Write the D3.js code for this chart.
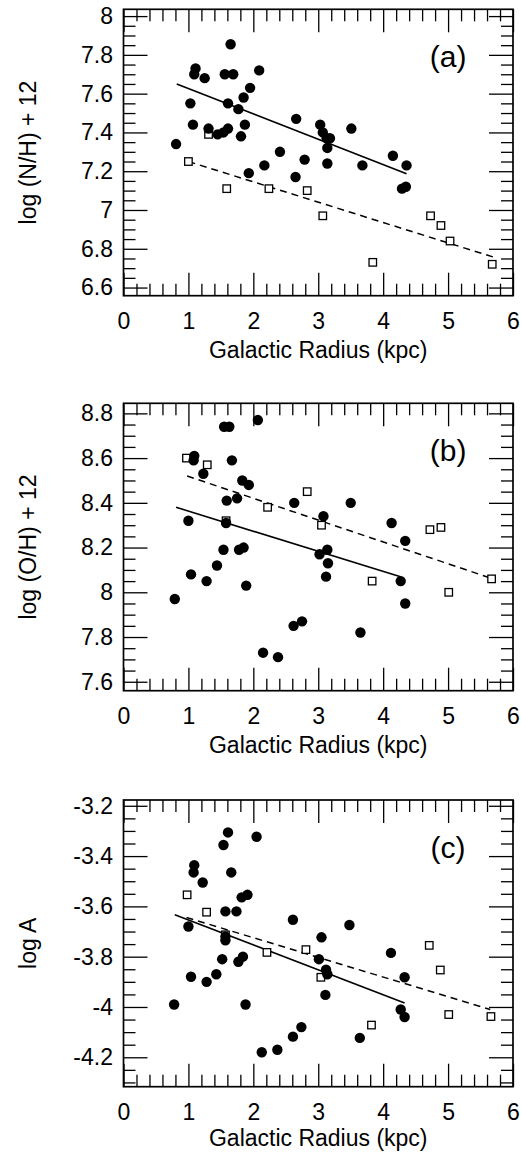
<!DOCTYPE html>
<html>
<head>
<meta charset="utf-8">
<script src="https://cdn.jsdelivr.net/npm/d3@7"></script>
<style>
  body { margin: 0; background: #fff; }
  svg { display: block; font-family: "Liberation Sans", Arial, Helvetica, sans-serif; }
</style>
</head>
<body>
<svg></svg>
<script>
// (a) log (N/H) + 12 vs galactic radius
const nhCircles = [
  [0.81, 7.34], [1.03, 7.55], [1.07, 7.44], [1.11, 7.73], [1.09, 7.70], [1.25, 7.68],
  [1.31, 7.42], [1.45, 7.39], [1.54, 7.40], [1.61, 7.42], [1.61, 7.55], [1.56, 7.70],
  [1.69, 7.70], [1.65, 7.855], [1.77, 7.52], [1.85, 7.58], [1.87, 7.44], [1.81, 7.38],
  [1.95, 7.63], [1.93, 7.19], [2.09, 7.72], [2.17, 7.23], [2.41, 7.30], [2.66, 7.47],
  [2.65, 7.17], [2.79, 7.26], [3.03, 7.44], [3.07, 7.40], [3.13, 7.37], [3.18, 7.37],
  [3.14, 7.32], [3.14, 7.24], [3.51, 7.42], [3.68, 7.23], [4.15, 7.28], [4.36, 7.23],
  [4.29, 7.11], [4.35, 7.12]
]
const nhSquares = [
  [1.0, 7.25], [1.31, 7.39], [1.59, 7.11], [2.24, 7.11], [2.83, 7.10], [3.07, 6.97],
  [3.84, 6.73], [4.73, 6.97], [4.89, 6.92], [5.03, 6.84], [5.68, 6.72]
]
const nhSolid = [[0.82, 7.65], [4.36, 7.187]]
const nhDashed = [[1.0, 7.25], [5.72, 6.755]]

// (b) log (O/H) + 12
const ohCircles = [
  [0.79, 7.97], [1.0, 8.32], [1.04, 8.08], [1.09, 8.61], [1.08, 8.59], [1.23, 8.53],
  [1.28, 8.05], [1.44, 8.12], [1.54, 8.19], [1.55, 8.74], [1.63, 8.74], [1.58, 8.31],
  [1.59, 8.41], [1.67, 8.59], [1.75, 8.42], [1.78, 8.19], [1.85, 8.20], [1.83, 8.50],
  [1.93, 8.48], [1.89, 8.03], [2.07, 8.77], [2.15, 7.73], [2.38, 7.71], [2.62, 7.85],
  [2.75, 7.87], [2.63, 8.40], [3.02, 8.17], [3.08, 8.34], [3.14, 8.19], [3.15, 8.13],
  [3.12, 8.07], [3.50, 8.40], [3.65, 7.82], [4.13, 8.31], [4.27, 8.05], [4.34, 8.23],
  [4.34, 7.95]
]
const ohSquares = [
  [0.97, 8.60], [1.29, 8.57], [1.58, 8.32], [2.22, 8.38], [2.83, 8.45], [3.05, 8.30],
  [3.83, 8.05], [4.72, 8.28], [4.89, 8.29], [5.01, 8.00], [5.67, 8.06]
]
const ohSolid = [[0.81, 8.38], [4.28, 8.068]]
const ohDashed = [[0.98, 8.52], [5.64, 8.065]]

// (c) log A
const aCircles = [
  [0.78, -3.99], [1.0, -3.68], [1.04, -3.88], [1.09, -3.436], [1.08, -3.465], [1.22, -3.505],
  [1.28, -3.90], [1.43, -3.87], [1.52, -3.81], [1.54, -3.356], [1.61, -3.306], [1.57, -3.62],
  [1.57, -3.72], [1.57, -3.735], [1.66, -3.465], [1.74, -3.62], [1.77, -3.82], [1.84, -3.80],
  [1.82, -3.564], [1.91, -3.554], [1.88, -3.99], [2.05, -3.323], [2.13, -4.18], [2.37, -4.17],
  [2.61, -4.118], [2.74, -4.08], [2.61, -3.653], [3.01, -3.81], [3.05, -3.723], [3.12, -3.852],
  [3.14, -3.87], [3.11, -3.952], [3.48, -3.674], [3.64, -4.123], [4.12, -3.785], [4.27, -4.01],
  [4.33, -4.04], [4.33, -3.882]
]
const aSquares = [
  [0.98, -3.554], [1.28, -3.623], [1.57, -3.713], [2.21, -3.783], [2.81, -3.772], [3.04, -3.882],
  [3.82, -4.072], [4.71, -3.755], [4.88, -3.853], [5.01, -4.03], [5.66, -4.038]
]
const aSolid = [[0.79, -3.633], [4.33, -3.984]]
const aDashed = [[0.97, -3.644], [5.65, -4.01]]

const xLabel = 'Galactic Radius (kpc)'

const panels = [
  { tag: '(a)', ylabel: 'log (N/H) + 12', yDomain: [6.558, 8.035], top: 9.3, bottom: 295.7, titleGap: 62,
    circles: nhCircles, squares: nhSquares, solid: nhSolid, dashed: nhDashed },
  { tag: '(b)', ylabel: 'log (O/H) + 12', yDomain: [7.56, 8.845], top: 403.3, bottom: 690.7, titleGap: 62,
    circles: ohCircles, squares: ohSquares, solid: ohSolid, dashed: ohDashed },
  // bottom title sits right at the page edge, pull it up a touch so it is not clipped
  { tag: '(c)', ylabel: 'log A', yDomain: [-4.317, -3.177], top: 800, bottom: 1086.7, titleGap: 59.5,
    circles: aCircles, squares: aSquares, solid: aSolid, dashed: aDashed }
]

const width = 521
const height = 1152
const fontSize = 23

const svg = d3.select('svg')
  .attr('width', width)
  .attr('height', height)

const x = d3.scaleLinear().domain([0, 6]).range([123.5, 513])

function stepTicks(domain, step) {
  const n0 = Math.ceil(domain[0] / step - 1e-9)
  const n1 = Math.floor(domain[1] / step + 1e-9)
  return d3.range(n0, n1 + 1).map(i => +(i * step).toFixed(3))
}
const notOn = step => v => Math.abs(v / step - Math.round(v / step)) > 1e-6
const fmt = d => String(+d.toFixed(2))

const xMajor = stepTicks([0, 6], 1)
const xMinor = stepTicks([0, 6], 0.2).filter(notOn(1))

panels.forEach(p => {
  const y = d3.scaleLinear().domain(p.yDomain).range([p.bottom, p.top])
  const yMajor = stepTicks(p.yDomain, 0.2)
  const yMinor = stepTicks(p.yDomain, 0.05).filter(notOn(0.2))
  const left = x.range()[0], right = x.range()[1]

  const g = svg.append('g')

  // ticks point inwards on all four sides
  const axes = [
    [d3.axisBottom(x).tickValues(xMajor).tickSizeInner(-23).tickPadding(17).tickFormat(fmt), `translate(0,${p.bottom})`],
    [d3.axisBottom(x).tickValues(xMinor).tickSizeInner(-12).tickFormat(''), `translate(0,${p.bottom})`],
    [d3.axisTop(x).tickValues(xMajor).tickSizeInner(-23).tickFormat(''), `translate(0,${p.top})`],
    [d3.axisTop(x).tickValues(xMinor).tickSizeInner(-12).tickFormat(''), `translate(0,${p.top})`],
    [d3.axisLeft(y).tickValues(yMajor).tickSizeInner(-24).tickPadding(10.5).tickFormat(fmt), `translate(${left},0)`],
    [d3.axisLeft(y).tickValues(yMinor).tickSizeInner(-12).tickFormat(''), `translate(${left},0)`],
    [d3.axisRight(y).tickValues(yMajor).tickSizeInner(-24).tickFormat(''), `translate(${right},0)`],
    [d3.axisRight(y).tickValues(yMinor).tickSizeInner(-12).tickFormat(''), `translate(${right},0)`]
  ]
  axes.forEach(([ax, tr]) => {
    const a = g.append('g').attr('transform', tr).call(ax.tickSizeOuter(0))
    a.select('.domain').remove()
    a.selectAll('.tick line').attr('stroke', '#000').attr('stroke-width', 1.3)
    a.selectAll('.tick text')
      .attr('fill', '#000')
      .attr('font-size', fontSize)
      .attr('font-family', '"Liberation Sans", Arial, Helvetica, sans-serif')
  })

  g.append('rect')
    .attr('x', left).attr('y', p.top)
    .attr('width', right - left).attr('height', p.bottom - p.top)
    .attr('fill', 'none').attr('stroke', '#000').attr('stroke-width', 1.7)

  const line = d3.line().x(d => x(d[0])).y(d => y(d[1]))
  g.append('path').datum(p.solid).attr('d', line)
    .attr('fill', 'none').attr('stroke', '#000').attr('stroke-width', 1.6)
  g.append('path').datum(p.dashed).attr('d', line)
    .attr('fill', 'none').attr('stroke', '#000').attr('stroke-width', 1.5)
    .attr('stroke-dasharray', '7,5')

  const s = 7.5
  g.append('g').selectAll('rect')
    .data(p.squares)
    .enter().append('rect')
      .attr('x', d => x(d[0]) - s / 2)
      .attr('y', d => y(d[1]) - s / 2)
      .attr('width', s).attr('height', s)
      .attr('fill', '#fff').attr('stroke', '#000').attr('stroke-width', 1.3)

  g.append('g').selectAll('circle')
    .data(p.circles)
    .enter().append('circle')
      .attr('cx', d => x(d[0]))
      .attr('cy', d => y(d[1]))
      .attr('r', 5.2)
      .attr('fill', '#000')

  g.append('text')
    .attr('x', x(5)).attr('y', p.top + 58)
    .attr('text-anchor', 'middle')
    .attr('font-size', 30)
    .text(p.tag)

  g.append('text')
    .attr('x', (left + right) / 2).attr('y', p.bottom + p.titleGap)
    .attr('text-anchor', 'middle')
    .attr('font-size', fontSize)
    .text(xLabel)

  g.append('text')
    .attr('transform', `translate(36,${(p.top + p.bottom) / 2}) rotate(-90)`)
    .attr('text-anchor', 'middle')
    .attr('font-size', fontSize)
    .text(p.ylabel)
})
</script>
</body>
</html>
